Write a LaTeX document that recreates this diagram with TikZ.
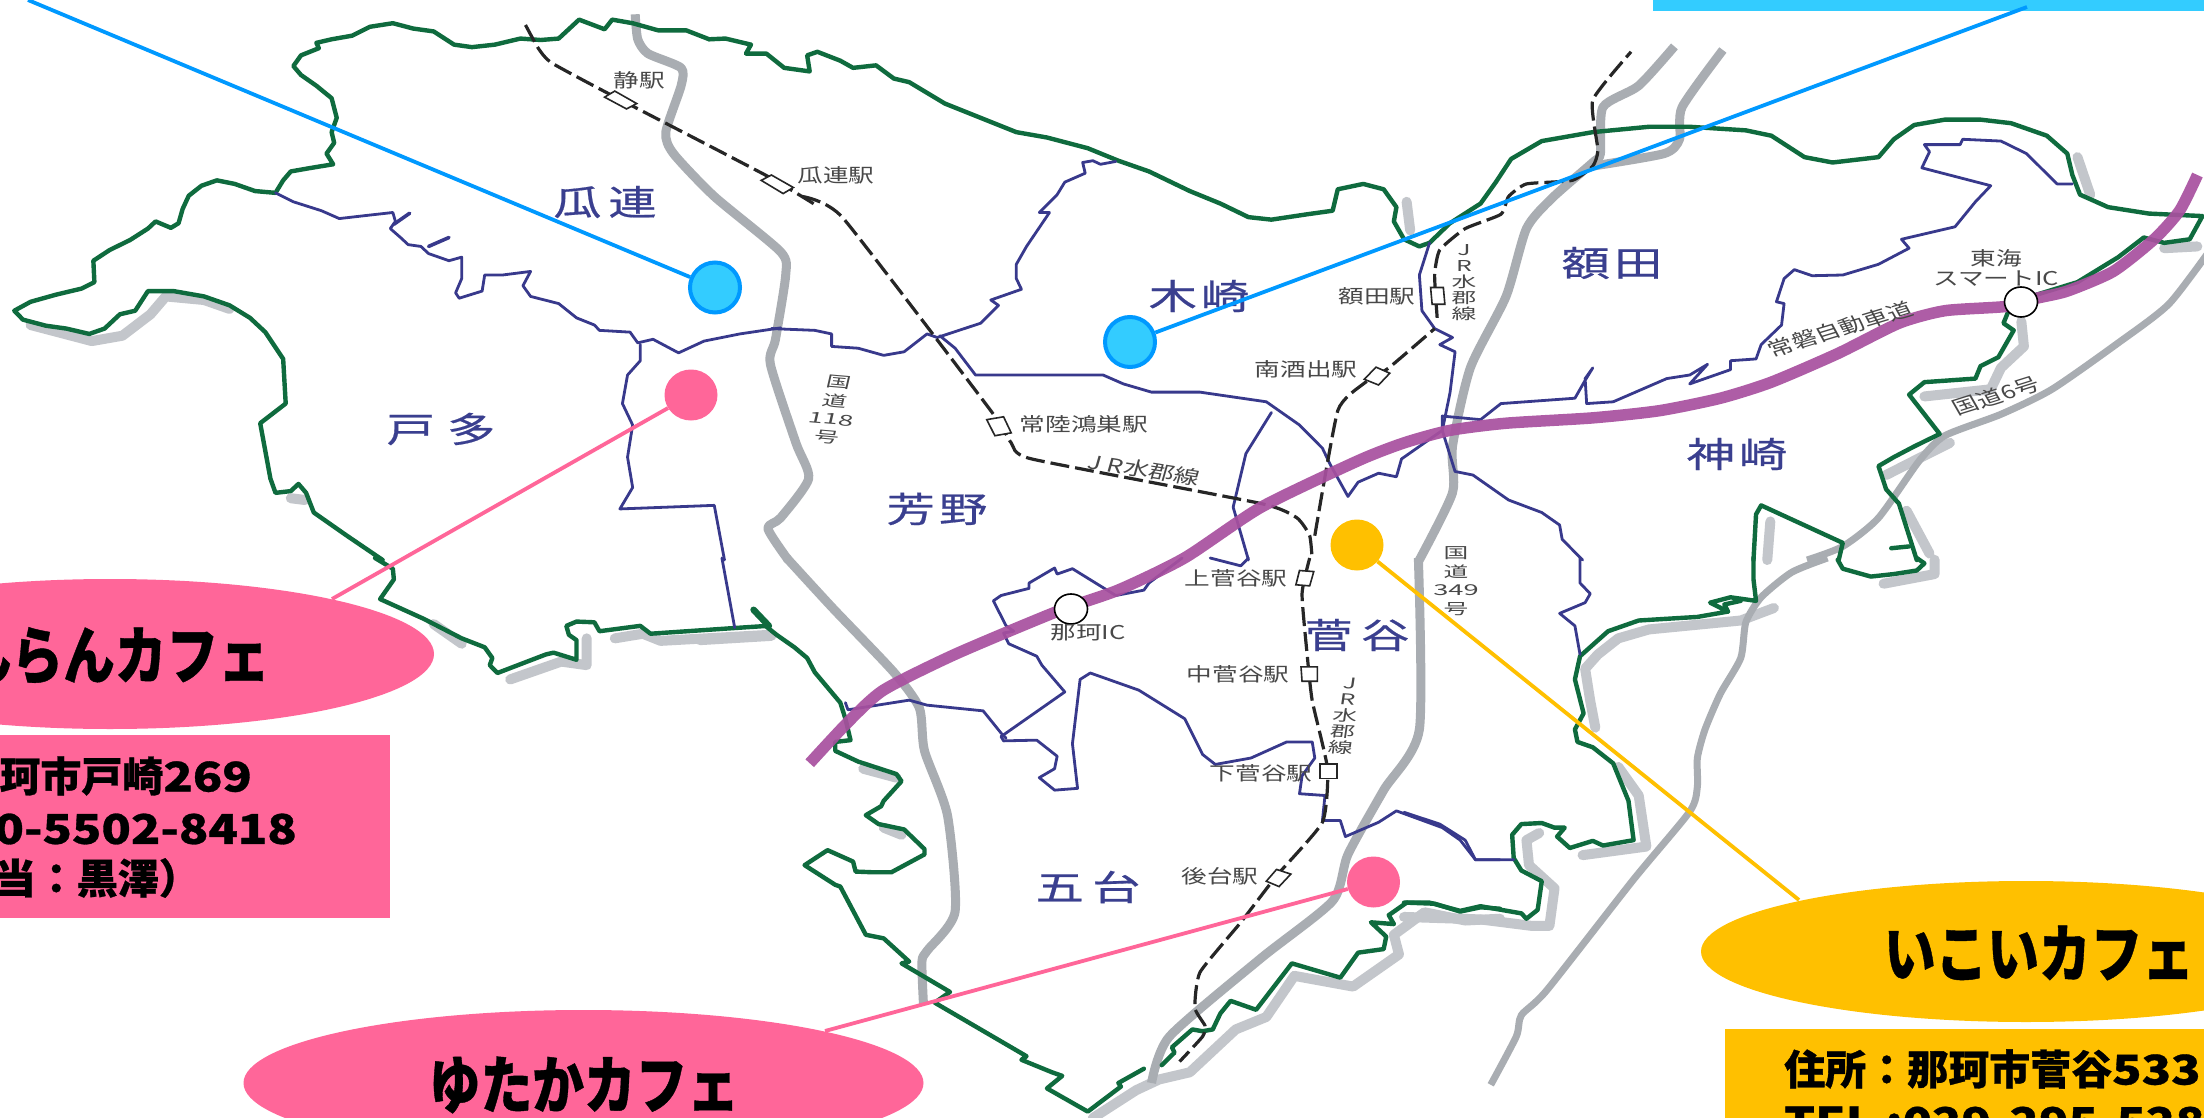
\documentclass[tikz,border=0pt]{standalone}
\usepackage{fontspec}
\usepackage{graphicx}
\usetikzlibrary{shapes.geometric}
\newfontfamily\cjk{Noto Sans CJK JP}
\newfontfamily\cjkm[FakeBold=0.5]{Noto Sans CJK JP}
\newfontfamily\cjkb[BoldFeatures={FakeBold=0.7}]{Noto Sans CJK JP}
\newcommand{\dgw}[1]{\scalebox{1.18}[1]{#1}}
\newcommand{\dgs}[1]{\scalebox{1.1}[1]{#1}}
\definecolor{grn}{HTML}{0F6B3E}
\definecolor{bln}{HTML}{38398C}
\definecolor{shd}{HTML}{C3C6CB}
\definecolor{rdg}{HTML}{A9ADB2}
\definecolor{expc}{HTML}{A8509F}
\definecolor{pnk}{HTML}{FF6699}
\definecolor{ylw}{HTML}{FFC000}
\definecolor{cyn}{HTML}{33CCFF}
\definecolor{azr}{HTML}{0099FF}
\definecolor{gtx}{HTML}{484848}
\definecolor{rgn}{HTML}{3A3F8F}
\tikzset{
 cA/.style={x=0.5102pt,y=-0.35714pt},
 cB/.style={shift={(700,0)},x=0.5102pt,y=-0.35714pt},
 cC/.style={shift={(1404,0)},x=0.5102pt,y=-0.35714pt},
 cD/.style={shift={(0,558)},x=0.5102pt,y=-0.35714pt},
 cE/.style={shift={(700,558)},x=0.5102pt,y=-0.35714pt},
 cF/.style={shift={(1404,558)},x=0.5102pt,y=-0.35714pt},
 greenln/.style={draw=grn,line width=4.4pt,line join=round,line cap=round},
 blueln/.style={draw=bln,line width=2.8pt,line join=round,line cap=round},
 shadowln/.style={draw=shd,line width=10pt,line join=round,line cap=round},
 roadln/.style={draw=rdg,line width=9pt,line join=round},
 roadthin/.style={draw=rdg,line width=7pt,line join=round},
 expln/.style={draw=expc,line width=11.5pt,opacity=.92,line join=round},
 railln/.style={draw=black!85,line width=3.2pt,dash pattern=on 19pt off 6pt},
 stn/.style={draw=black!85,line width=1.6pt,fill=white},
 icn/.style={ellipse,draw=black,line width=1.6pt,fill=white,minimum width=33pt,minimum height=30pt,inner sep=0pt},
 smalltx/.style={font=\cjk\fontsize{19}{20}\selectfont,text=gtx,xscale=1.35,transform shape,inner sep=0pt,align=center},
 stacktx/.style={font=\cjk\fontsize{15}{16}\selectfont,text=gtx,xscale=1.65,transform shape,inner sep=0pt,align=center},
 stacktb/.style={font=\cjk\fontsize{15}{18.5}\selectfont,text=gtx,xscale=1.65,transform shape,inner sep=0pt,align=center},
 regiontx/.style={font=\cjkm\fontsize{35}{37}\selectfont,text=rgn,xscale=1.38,transform shape,inner sep=0pt},
 dotblue/.style={ellipse,draw=azr,line width=4pt,fill=cyn,minimum width=50pt,minimum height=50pt,inner sep=0pt},
 dotpink/.style={ellipse,fill=pnk,minimum width=53pt,minimum height=51pt,inner sep=0pt},
 dotyel/.style={ellipse,fill=ylw,minimum width=53pt,minimum height=51pt,inner sep=0pt},
 leadb/.style={draw=azr,line width=3.8pt},
 leadp/.style={draw=pnk,line width=3.8pt},
 leady/.style={draw=ylw,line width=3.8pt},
 cafetx/.style={font=\cjkb\bfseries\fontsize{63}{63}\selectfont,text=black,xscale=.82,transform shape,inner sep=0pt},
 infotx/.style={font=\cjkb\bfseries\fontsize{41}{41}\selectfont,text=black,inner sep=0pt},
}
\begin{document}
\begin{tikzpicture}[x=1pt,y=-1pt]
\useasboundingbox (0,0) rectangle (2204,1118);
\clip (0,0) rectangle (2204,1118);
\fill[white] (0,0) rectangle (2204,1118);
% shadows
\begin{scope}[cA]
\draw[shadowln] (60,910)--(180,955)--(240,940)--(295,880)--(325,830)--(400,840)--(450,865);
\draw[shadowln] (570,1395)--(598,1400);
\end{scope}
\begin{scope}[cD]
\draw[shadowln] (850,185)--(905,240);
\draw[shadowln] (1000,340)--(1100,290)--(1150,300)--(1150,225);
\draw[shadowln] (1205,225)--(1260,212)--(1295,232)--(1510,215);
\end{scope}
\begin{scope}[cE]
\draw[shadowln] (0,230)--(140,218);
\draw[shadowln] (320,590)--(385,615);
\draw[shadowln] (360,755)--(395,775);
\draw[shadowln] (770,1568)--(855,1490)--(900,1460)--(960,1440)--(1050,1320)--(1110,1285)--(1165,1170)--(1280,1200)--(1370,1110)--(1360,1055)--(1420,992)--(1500,1015)--(1568,1010);
\end{scope}
\begin{scope}[cF]
\draw[shadowln] (0,1005)--(110,1010)--(150,1012)--(250,1030)--(285,1030)--(295,925)--(245,860)--(240,790)--(265,770);
\draw[shadowln] (350,832)--(475,808)--(460,665)--(420,585);
\draw[shadowln] (375,475)--(365,400)--(355,310)--(380,270)--(420,225)--(480,200)--(660,175)--(725,140);
\draw[shadowln] (940,72)--(1040,45)--(1040,5);
\end{scope}
\begin{scope}[cC]
\draw[shadowln] (712,1568)--(718,1460);
\draw[shadowln] (1020,1110)--(1150,1090)--(1170,1030)--(1215,970)--(1210,900);
\draw[shadowln] (945,1330)--(1000,1290)--(1070,1240);
\draw[shadowln] (1345,545)--(1320,440);
\draw[shadowln] (985,1430)--(1030,1550);
\draw[shadowln] (1490,695)--(1555,690);
\end{scope}
\begin{scope}[cB]
\draw[shadowln] (1385,565)--(1392,645);
\end{scope}
% roads
\begin{scope}[cA]
\draw[roadln] plot[smooth,tension=.4] coordinates {(1245,40)(1250,110)(1270,150)(1335,190)(1335,240)(1305,370)(1320,430)(1400,550)(1530,705)(1540,770)(1520,950)(1510,1020)(1560,1240)(1585,1340)(1530,1450)(1505,1480)(1545,1568)};
\end{scope}
\begin{scope}[cE]
\draw[roadln] plot[smooth,tension=.4] coordinates {(170,0)(260,140)(380,320)(430,420)(440,540)(485,720)(500,990)(445,1100)(435,1130)(438,1250)};
\draw[roadln] plot[smooth,tension=.4] coordinates {(1408,0)(1410,480)(1340,650)(1270,830)(1240,960)(1100,1120)(920,1340)(885,1470)};
\end{scope}
\begin{scope}[cC]
\draw[roadln] plot[smooth,tension=.4] coordinates {(530,130)(460,240)(390,300)(385,430)(370,455)(290,555)(240,640)(200,830)(130,1030)(95,1250)(95,1380)(30,1568)};
\draw[roadln] plot[smooth,tension=.4] coordinates {(625,140)(545,300)(540,390)(510,430)(370,465)};
\draw[roadthin] plot[smooth,tension=.4] coordinates {(1590,680)(1500,850)(1400,960)(1270,1090)(1170,1160)(1060,1220)(1010,1290)(930,1450)(860,1530)(790,1568)};
\end{scope}
\begin{scope}[cF]
\draw[roadthin] plot[smooth,tension=.4] coordinates {(830,0)(760,40)(700,110)(670,180)(660,280)(620,380)(590,480)(575,560)(575,640)(560,710)(450,900)(280,1210)(230,1280)(220,1340)(170,1475)};
\end{scope}
% green border
\begin{scope}[cA]
\draw[greenln] (1390,110)--(1345,85)--(1290,85)--(1240,65)--(1200,55)--(1185,82)--(1135,55)--(1095,108)--(1060,112)--(1020,108)--(970,125)--(925,132)--(890,125)--(850,88)--(810,80)--(770,65)--(725,75)--(690,100)--(650,110)--(620,120)--(625,135)--(590,155)--(575,185)--(590,210)--(620,240)--(650,275)--(660,330)--(650,370)--(655,400)--(640,430)--(653,460)--(610,470)--(570,480)--(555,505)--(540,540)--(500,535)--(460,515)--(425,505)--(395,520)--(370,548)--(358,585)--(350,625)--(335,638)--(305,620)--(290,640)--(255,672)--(215,700)--(183,730)--(185,790)--(160,808)--(110,825)--(60,845)--(28,870)--(45,895)--(90,912)--(130,920)--(175,935)--(205,920)--(235,880)--(265,870)--(290,815)--(340,815)--(400,830)--(450,855)--(490,890)--(520,930)--(555,1005)--(560,1130)--(510,1185)--(530,1340)--(540,1380)--(570,1375)--(585,1355)--(600,1380)--(615,1435)--(680,1500)--(750,1568);
\end{scope}
\begin{scope}[cD]
\draw[greenln] (735,0)--(770,30)--(772,60)--(745,115)--(830,170)--(905,225)--(950,250)--(965,280)--(960,300)--(975,322)--(1070,270)--(1085,265)--(1130,285)--(1130,230)--(1115,215)--(1110,190)--(1130,178)--(1165,180)--(1175,205)--(1255,190)--(1275,212)--(1430,197)--(1505,190);
\end{scope}
\begin{scope}[cE]
\draw[greenln,line width=6.5pt] (105,145)--(135,190);
\draw[greenln] (130,192)--(150,215)--(185,250)--(210,280)--(225,320)--(275,405)--(285,450)--(295,510)--(265,515)--(265,540)--(310,570)--(385,605)--(395,625)--(360,680)--(355,695)--(325,720)--(350,745)--(400,760)--(440,815)--(440,830)--(375,880)--(340,880)--(305,878)--(300,850)--(250,818)--(205,860)--(265,915)--(275,920)--(325,1055)--(360,1065)--(410,1130)--(395,1135)--(490,1215)--(460,1245)--(640,1395)--(630,1405)--(690,1440)--(710,1450)--(680,1485)--(760,1550)--(825,1480)--(820,1470)--(870,1430);
\draw[greenln] (905,1420)--(930,1385)--(925,1370)--(965,1320)--(985,1325)--(1005,1320)--(1020,1275)--(1040,1240)--(1090,1265)--(1160,1135)--(1255,1175)--(1290,1105)--(1340,1095)--(1345,1060)--(1315,1020)--(1360,1025)--(1350,1000)--(1385,965)--(1440,968)--(1490,990)--(1530,978)--(1568,982);
\end{scope}
\begin{scope}[cF]
\draw[greenln] (0,965)--(50,965)--(110,988)--(150,975)--(230,995)--(240,1010)--(262,985)--(270,905)--(230,875)--(215,840)--(212,775)--(230,745)--(270,742)--(295,755)--(315,755)--(300,780)--(325,812)--(370,792)--(390,805)--(450,790)--(440,680)--(410,575)--(370,530)--(340,515)--(335,480)--(352,435)--(335,340)--(345,275)--(400,205)--(460,175)--(575,165)--(635,150)--(600,125)--(640,110)--(690,120)--(685,60)--(685,0);
\draw[greenln] (635,150)--(628,130)--(660,120);
\draw[greenln] (850,5)--(860,30)--(915,52)--(960,45)--(1005,35)--(1020,15)--(1005,0);
\end{scope}
\begin{scope}[cC]
\draw[greenln] (685,1568)--(690,1440)--(700,1415)--(860,1520)--(852,1568);
\draw[greenln] (1005,1568)--(970,1410)--(945,1370)--(930,1305)--(960,1280)--(1000,1250)--(1050,1215)--(990,1105)--(1020,1070)--(1120,1060)--(1130,1025)--(1165,1000)--(1195,925)--(1175,905)--(1185,870);
\draw[greenln] (990,1530)--(955,1535);
\draw[greenln] (1240,825)--(1320,790)--(1400,720)--(1450,665)--(1490,680)--(1540,670)--(1565,605)--(1460,598)--(1380,580)--(1325,545)--(1310,490)--(1300,430)--(1260,380)--(1190,345)--(1130,335)--(1060,335)--(1000,350)--(960,390)--(930,440)--(840,455)--(785,440)--(720,380)--(670,365)--(560,355)--(480,355)--(370,370)--(270,395)--(210,445)--(180,510)--(150,570)--(90,625)--(50,680)--(30,690)--(0,670);
\end{scope}
\begin{scope}[cB]
\draw[greenln] (1380,670)--(1360,620)--(1365,580)--(1340,530)--(1300,515)--(1250,530)--(1240,590)--(1190,600)--(1120,615)--(1075,608)--(1020,570)--(960,535)--(880,480)--(820,450)--(760,415)--(680,385)--(620,370)--(480,290)--(410,230)--(380,220)--(345,183)--(300,190)--(275,170)--(230,145)--(210,155)--(215,200)--(165,190)--(130,150)--(90,150)--(100,125)--(50,108)--(18,110);
\end{scope}
% blue boundaries
\begin{scope}[cA]
\draw[blueln] (540,540)--(575,565)--(630,590)--(665,612)--(720,603)--(770,595)--(775,620)--(765,640)--(785,665)--(800,685)--(825,690)--(840,710)--(880,730)--(905,720)--(905,780)--(893,820)--(900,835)--(945,815)--(950,770)--(985,770)--(1040,760)--(1025,800)--(1040,830)--(1095,850)--(1130,890)--(1165,910)--(1175,925)--(1235,930)--(1250,960)--(1280,950)--(1330,988)--(1380,955)--(1450,935)--(1530,918);
\draw[blueln,line width=3.6pt] (772,628)--(803,597);
\draw[blueln,line width=3.6pt] (840,690)--(880,665);
\draw[blueln] (1255,965)--(1255,1010)--(1230,1050)--(1220,1130)--(1240,1190)--(1230,1280)--(1240,1365)--(1215,1425)--(1400,1415)--(1420,1568);
\end{scope}
\begin{scope}[cD]
\draw[blueln] (1415,0)--(1440,195);
\end{scope}
\begin{scope}[cB]
\draw[blueln] (140,920)--(225,925)--(258,935)--(258,970)--(310,975)--(360,995)--(400,985)--(445,935)--(465,945)--(550,905)--(585,855)--(570,840)--(630,810)--(620,780)--(620,740)--(640,690)--(685,595)--(665,595)--(700,545)--(715,510)--(755,485)--(750,455)--(770,450)--(785,460)--(815,452);
\draw[blueln] (470,940)--(500,975)--(540,1050)--(790,1050)--(830,1075)--(885,1098)--(980,1098)--(1110,1125)--(1175,1190)--(1220,1255)--(1235,1300)--(1270,1390)--(1290,1350)--(1330,1325)--(1365,1335)--(1375,1285)--(1455,1205);
\draw[blueln] (1120,1155)--(1070,1270)--(1045,1420)--(1075,1568);
\draw[blueln] (1430,680)--(1410,770)--(1415,870)--(1440,920)--(1475,945)--(1450,965)--(1480,985)--(1470,1100)--(1455,1205);
\end{scope}
\begin{scope}[cC]
\draw[blueln] (75,1205)--(75,1165)--(150,1175)--(190,1130)--(335,1115)--(355,1065)--(370,1030)--(355,1060)--(358,1130)--(410,1125)--(515,1060)--(560,1050)--(595,1020)--(560,1075)--(640,1035)--(640,1010)--(690,1005)--(700,965)--(740,910)--(745,850)--(730,845)--(745,780)--(765,755)--(800,772)--(860,770)--(930,740)--(990,695)--(975,670)--(1080,635)--(1120,565)--(1150,520)--(1015,470)--(1030,425)--(1020,405)--(1090,405)--(1095,390)--(1170,395)--(1220,430)--(1280,515)--(1310,515);
\draw[blueln] (75,1205)--(100,1320)--(135,1330)--(205,1400)--(270,1435)--(305,1470)--(310,1510)--(350,1568);
\end{scope}
\begin{scope}[cF]
\draw[blueln] (345,0)--(345,70)--(365,100)--(355,125)--(305,155)--(335,190)--(345,270);
\draw[blueln] (0,712)--(70,745)--(120,790)--(140,845)--(215,845);
\end{scope}
\begin{scope}[cE]
\draw[blueln] (1075,0)--(1060,22)--(1000,0);
\draw[blueln] (945,0)--(880,70)--(870,90)--(815,105)--(730,30)--(700,45)--(695,28)--(645,70)--(645,85)--(590,105)--(575,120)--(600,190)--(615,205)--(595,210)--(605,240)--(660,275)--(670,300)--(715,375)--(590,500)--(595,512)--(660,510)--(700,555)--(695,590)--(665,615)--(695,650)--(740,645)--(730,520)--(745,340)--(765,322)--(860,370)--(950,450)--(985,550)--(1010,578)--(1080,560)--(1150,515)--(1200,515)--(1205,560)--(1180,610)--(1175,660)--(1225,665)--(1220,735)--(1255,735)--(1265,780)--(1330,740)--(1365,708)--(1455,755)--(1490,790)--(1520,845)--(1568,845);
\draw[blueln] (285,405)--(290,425)--(410,398)--(445,412)--(555,428)--(590,490)--(600,505);
\end{scope}
% rail
\begin{scope}[cA]
\draw[railln] plot[smooth,tension=.3] coordinates {(1030,70)(1055,135)(1080,175)(1190,260)(1500,490)(1600,575)};
\end{scope}
\begin{scope}[cB]
\draw[railln] plot[smooth,tension=.3] coordinates {(200,550)(280,610)(570,1150)(610,1240)(650,1285)(1100,1410)(1170,1450)(1195,1500)(1200,1568)};
\draw[railln] plot[smooth,tension=.3] coordinates {(1205,1500)(1250,1150)(1300,1075)(1350,1030)(1440,920)};
\end{scope}
\begin{scope}[cC]
\draw[railln] plot[smooth,tension=.3] coordinates {(65,890)(60,770)(70,700)(120,640)(190,600)(205,550)(240,515)(330,505)(370,465)(380,420)(370,280)(445,145)};
\end{scope}
\begin{scope}[cE]
\draw[railln] plot[smooth,tension=.3] coordinates {(1195,0)(1180,100)(1190,270)(1200,400)(1230,590)(1220,740)(1130,890)(1060,1020)(980,1160)(970,1260)(990,1310)(985,1340)(940,1410)};
\end{scope}
% stations
\begin{scope}[cA]
\draw[stn] (1185,272)--(1205,255)--(1248,290)--(1228,305)--cycle;
\draw[stn] (1492,505)--(1512,490)--(1555,525)--(1535,542)--cycle;
\end{scope}
\begin{scope}[cB]
\draw[stn] (562,1175)--(595,1167)--(610,1212)--(578,1220)--cycle;
\draw[stn] (1302,1062)--(1325,1028)--(1352,1045)--(1330,1078)--cycle;
\draw[stn] (1432,805)--(1457,805)--(1460,852)--(1435,852)--cycle;
\end{scope}
\begin{scope}[cE]
\draw[stn] (1175,35)--(1203,38)--(1195,78)--(1168,75)--cycle;
\draw[stn] (1178,305)--(1210,305)--(1210,345)--(1180,345)--cycle;
\draw[stn] (1215,577)--(1248,577)--(1248,617)--(1215,617)--cycle;
\draw[stn] (1110,905)--(1130,872)--(1158,885)--(1135,920)--cycle;
\end{scope}
% expressway
\begin{scope}[cB]
\draw[expln] plot[smooth,tension=.4] coordinates {(2935,490)(2900,590)(2850,670)(2770,760)(2680,815)(2620,835)(2560,858)(2440,870)(2350,905)(2230,990)(2100,1070)(2000,1115)(1880,1150)(1750,1170)(1580,1185)(1470,1205)(1380,1240)(1290,1290)(1100,1420)(950,1562)(820,1652)(700,1712)(500,1832)(360,1932)(290,2022)(215,2137)};
\end{scope}
% interchanges
\node[icn] (ic1) at (1071,609) {};
\node[icn] (ic2) at (2021,302) {};
% region labels
\node[regiontx] (r1) at (605,202) {瓜\hspace{5pt}連};
\node[regiontx] (r2) at (441,429) {戸\hspace{9pt}多};
\node[regiontx] (r3) at (1199,296) {木\hspace{3pt}崎};
\node[regiontx] (r4) at (1612,263) {額\hspace{3pt}田};
\node[regiontx] (r5) at (1737,454) {神\hspace{3pt}崎};
\node[regiontx] (r6) at (937,509) {芳\hspace{3pt}野};
\node[regiontx] (r7) at (1357,635) {菅\hspace{6pt}谷};
\node[regiontx] (r8) at (1088,887) {五\hspace{6pt}台};
% small labels
\node[smalltx] (s1) at (639,80) {静駅};
\node[smalltx] (s2) at (836,175) {瓜連駅};
\node[smalltx] (s3) at (1084,424) {常陸鴻巣駅};
\node[smalltx] (s4) at (1377,296) {額田駅};
\node[smalltx] (s5) at (1306,369) {南酒出駅};
\node[stacktx] (s6) at (1464,283) {J\\R\\水\\郡\\線};
\node[smalltx,rotate=-12] (s7) at (1144,470) {J\hspace{4pt}R\hspace{1pt}水郡線};
\node[stacktb,rotate=-8] (s8) at (833,410) {国\\道\\\dgs{118}\\号};
\node[stacktb] (s9) at (1456,581) {国\\道\\\dgs{349}\\号};
\node[smalltx] (s10) at (1236,578) {上菅谷駅};
\node[smalltx] (s11) at (1088,633) {那珂IC};
\node[smalltx] (s12) at (1238,674) {中菅谷駅};
\node[smalltx] (s13) at (1261,773) {下菅谷駅};
\node[smalltx] (s14) at (1220,876) {後台駅};
\node[stacktx,rotate=-5] (s15) at (1345,716) {J\\R\\水\\郡\\線};
\node[smalltx] (s16) at (1996,268) {東海\\スマートIC};
\node[smalltx,rotate=22] (s17) at (1840,329) {常磐自動車道};
\node[smalltx,rotate=23] (s18) at (1996,396) {国道6号};
% cafes
\coordinate (endtl) at (28,0);
\coordinate (endtr) at (2027,7);
\coordinate (endp1) at (332,599);
\coordinate (endp2) at (825,1031);
\coordinate (endy) at (1799,900);
\node[fill=cyn,minimum width=551pt,minimum height=11pt,inner sep=0pt,anchor=north west] (cybar) at (1653,0) {};
\node[dotblue] (bd1) at (715,287.5) {};
\node[dotblue] (bd2) at (1130,342) {};
\node[dotpink] (pd1) at (691,395) {};
\node[dotpink] (pd2) at (1373.5,882) {};
\node[dotyel] (yd1) at (1357,545) {};
\draw[leadb] (bd1) -- (endtl);
\draw[leadb] (bd2) -- (endtr);
\draw[leadp] (pd1) -- (endp1);
\draw[leadp] (pd2) -- (endp2);
\draw[leady] (yd1) -- (endy);
\node[ellipse,fill=pnk,minimum width=648pt,minimum height=150pt,inner sep=0pt] (e1) at (110,654) {};
\node[ellipse,fill=pnk,minimum width=680pt,minimum height=146pt,inner sep=0pt] (e2) at (583.5,1083) {};
\node[ellipse,fill=ylw,minimum width=650pt,minimum height=141pt,inner sep=0pt] (e3) at (2026,951.5) {};
\node[cafetx,anchor=east] (t1) at (270,656) {んらんカフェ};
\node[cafetx] (t2) at (584,1085) {ゆたかカフェ};
\node[cafetx] (t3) at (2039,953) {いこいカフェ};
\node[fill=pnk,minimum width=390pt,minimum height=183pt,inner sep=0pt,anchor=north west] (b1) at (0,735) {};
\node[fill=ylw,minimum width=479pt,minimum height=89pt,inner sep=0pt,anchor=north west] (b2) at (1725,1029) {};
\node[infotx,anchor=east] (i1) at (252,776) {珂市戸崎\dgw{269}};
\node[infotx,anchor=east] (i2) at (297,829) {\dgw{0-5502-8418}};
\node[infotx,anchor=east] (i3) at (200,878) {当：黒澤）};
\node[infotx,anchor=west] (i4) at (1784,1069) {住所：那珂市菅谷\dgw{533}};
\node[infotx,anchor=west] (i5) at (1784,1122) {\dgw{TEL :029-295-5289}};
\end{tikzpicture}
\end{document}
